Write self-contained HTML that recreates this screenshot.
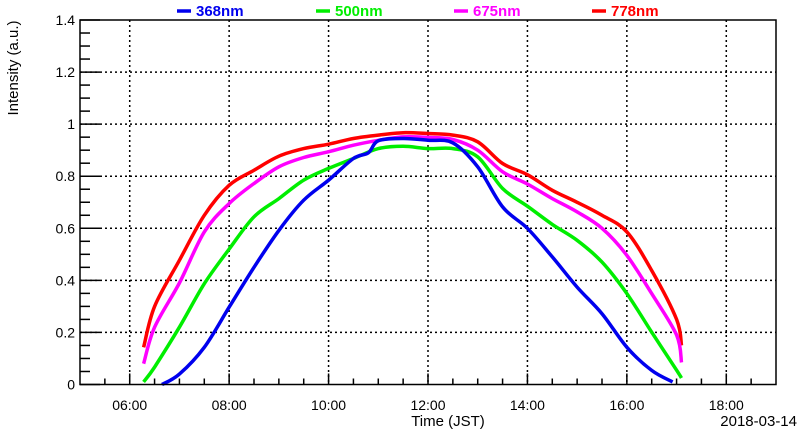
<!DOCTYPE html>
<html><head><meta charset="utf-8"><style>
body{margin:0;background:#fff;}
svg{display:block;font-family:"Liberation Sans",sans-serif;}
</style></head><body>
<svg id="chart" width="800" height="434">
<g id="grid"></g>
<g id="series"></g>
<g id="axes"></g>
<g id="legend"></g>
<text x="14" y="68" transform="rotate(-90 14 68)" text-anchor="middle" dominant-baseline="middle" font-size="15">Intensity (a.u.)</text>
<text x="448" y="426" text-anchor="middle" font-size="15">Time (JST)</text>
<text x="797" y="426" text-anchor="end" font-size="15">2018-03-14</text>
</svg>
<script>
const times368=[6.65,7,7.5,8,8.5,9,9.5,10,10.5,10.8,11,11.5,12,12.5,13,13.5,14,14.5,15,15.5,16,16.5,16.92];
const vals368=[0.0,0.04,0.143,0.297,0.45,0.592,0.708,0.785,0.868,0.89,0.936,0.945,0.938,0.928,0.836,0.682,0.6,0.49,0.374,0.272,0.143,0.054,0.01];
const times500=[6.28,6.5,7,7.5,8,8.5,9,9.5,10,10.5,11,11.5,12,12.5,13,13.5,14,14.5,15,15.5,16,16.5,17,17.1];
const vals500=[0.01,0.067,0.22,0.387,0.52,0.644,0.714,0.785,0.83,0.868,0.906,0.915,0.906,0.906,0.874,0.753,0.685,0.615,0.554,0.47,0.349,0.201,0.055,0.025];
const times675=[6.28,6.5,7,7.5,8,8.5,9,9.5,10,10.5,11,11.5,12,12.5,13,13.5,14,14.5,15,15.5,16,16.5,17,17.1];
const vals675=[0.08,0.22,0.39,0.586,0.695,0.772,0.836,0.872,0.894,0.919,0.938,0.951,0.949,0.941,0.9,0.817,0.77,0.714,0.663,0.6,0.496,0.349,0.19,0.085];
const times778=[6.28,6.5,7,7.5,8,8.5,9,9.5,10,10.5,11,11.5,12,12.5,13,13.5,14,14.5,15,15.5,16,16.5,17,17.1];
const vals778=[0.143,0.3,0.477,0.65,0.765,0.823,0.877,0.906,0.923,0.945,0.958,0.967,0.964,0.958,0.932,0.849,0.806,0.746,0.7,0.65,0.586,0.438,0.25,0.15];
const seriesNames=["368nm","500nm","675nm","778nm"];
const seriesColors=["#0000ee","#00ee00","#ff00ff","#ff0000"];
const yTicks=[0,0.2,0.4,0.6,0.8,1,1.2,1.4];
const yTickLabels=["0","0.2","0.4","0.6","0.8","1","1.2","1.4"];
const xTicks=[6,8,10,12,14,16,18];
const xTickLabels=["06:00","08:00","10:00","12:00","14:00","16:00","18:00"];

const L=80,R=776,T=20,B=384.5,X0=5,X1=19,Y0=0,Y1=1.4;
const xs=h=>L+(h-X0)/(X1-X0)*(R-L);
const ys=v=>B-(v-Y0)/(Y1-Y0)*(B-T);
const NS="http://www.w3.org/2000/svg";
function mk(tag,attrs,parent){const e=document.createElementNS(NS,tag);for(const k in attrs)e.setAttribute(k,attrs[k]);parent.appendChild(e);return e;}
const grid=document.getElementById('grid'),axes=document.getElementById('axes'),ser=document.getElementById('series'),leg=document.getElementById('legend');

yTicks.forEach((v,i)=>{
  if(v>0&&v<1.4){const g=mk('line',{x1:L,x2:R,y1:ys(v),y2:ys(v),stroke:'#000','stroke-width':1.5,'stroke-dasharray':'2 3'},grid);
  
  }
  const t=mk('line',{x1:L,x2:L+20,y1:ys(v),y2:ys(v),stroke:'#000','stroke-width':1.5},axes);
  
  
  const tx=mk('text',{x:L-5,y:ys(v)+5,'text-anchor':'end','font-size':14},axes);tx.textContent=yTickLabels[i];
  
  
});
for(let v=0.05;v<1.4;v+=0.05){const m=Math.round(v*100);if(m%20===0)continue;
  const t=mk('line',{x1:L,x2:L+10,y1:ys(v),y2:ys(v),stroke:'#000','stroke-width':1.5},axes);
  
  }
xTicks.forEach((h,i)=>{
  const g=mk('line',{x1:xs(h),x2:xs(h),y1:T,y2:B,stroke:'#000','stroke-width':1.5,'stroke-dasharray':'2 3'},grid);
  
  
  const tx=mk('text',{x:xs(h),y:410,'text-anchor':'middle','font-size':14},axes);tx.textContent=xTickLabels[i];
  
  
});
for(let h=5.5;h<19;h+=0.5){const major=Math.abs(h-Math.round(h))<0.01&&Math.round(h)%2===0;
  const t=mk('line',{x1:xs(h),x2:xs(h),y1:B,y2:B-(major?11:6),stroke:'#000','stroke-width':1.5},axes);
  
  }
const fr=mk('rect',{x:L,y:T,width:R-L,height:B-T,fill:'none',stroke:'#000','stroke-width':1.5},axes);



function smoothPath(P){
  let d='M'+P[0][0].toFixed(1)+','+P[0][1].toFixed(1);
  for(let i=0;i<P.length-1;i++){
    const p0=P[Math.max(0,i-1)],p1=P[i],p2=P[i+1],p3=P[Math.min(P.length-1,i+2)];
    const c1=[p1[0]+(p2[0]-p0[0])/6,p1[1]+(p2[1]-p0[1])/6];
    const c2=[p2[0]-(p3[0]-p1[0])/6,p2[1]-(p3[1]-p1[1])/6];
    d+=' C'+c1.map(v=>v.toFixed(1)).join(',')+' '+c2.map(v=>v.toFixed(1)).join(',')+' '+p2[0].toFixed(1)+','+p2[1].toFixed(1);
  }
  return d;
}
const allT=[times368,times500,times675,times778],allV=[vals368,vals500,vals675,vals778];
for(let s=3;s>=0;s--){
  const P=allT[s].map((h,i)=>[xs(h),ys(allV[s][i])]);
  const p=mk('path',{d:smoothPath(P),fill:'none',stroke:seriesColors[s],'stroke-width':3.5,'stroke-linejoin':'round'},ser);
  
  
}
const legX=[177,316,454,592];
seriesNames.forEach((n,i)=>{
  const g=mk('g',{},leg);
  
  
  mk('line',{x1:legX[i],x2:legX[i]+14,y1:11,y2:11,stroke:seriesColors[i],'stroke-width':3.5},g);
  const t=mk('text',{x:legX[i]+19,y:16,'font-size':15,'font-weight':'bold',fill:seriesColors[i]},g);t.textContent=n;
});
</script>
</body></html>
